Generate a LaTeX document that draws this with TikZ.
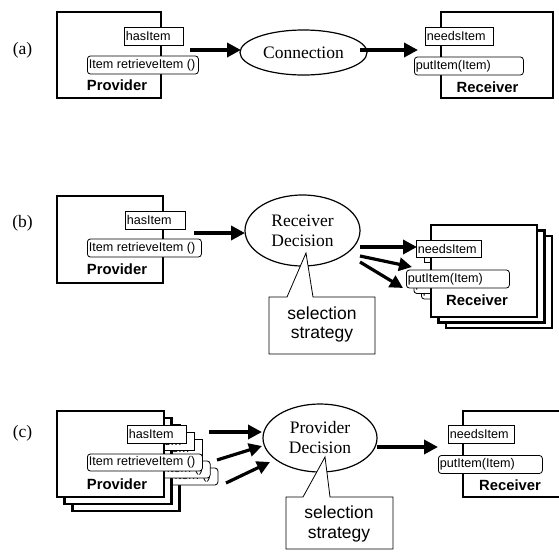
\documentclass[tikz,border=0pt]{standalone}
\usepackage{fontspec}
\setmainfont{Liberation Serif}
\setsansfont{Liberation Sans}
\usetikzlibrary{arrows.meta,shapes.geometric}
\newcommand{\mtx}[2]{\makebox[#1pt][l]{#2}}
\newcommand{\RecvB}[1]{%
  \node[comp, minimum width=106pt, minimum height=92pt] (#1box) at (484,271) {};
  \node[lbl] (#1lbl) at (477,300) {Receiver};
  \node[meth, minimum height=17pt] (#1need) at (416,248.5) {\mtx{62}{needsItem}};
  \node[rmeth] (#1put) at (406,279) {\mtx{100}{putItem(Item)}};
}
\newcommand{\ProvC}[1]{%
  \node[comp, minimum width=107pt, minimum height=86pt] (#1box) at (110.5,454) {};
  \node[lbl] (#1lbl) at (117,484) {Provider};
  \node[meth] (#1has) at (127,434) {\mtx{56}{hasItem}};
  \node[rmeth, minimum height=17pt] (#1ret) at (87,462.5) {\mtx{112}{Item retrieveItem ()}};
}
\begin{document}
\begin{tikzpicture}[x=1pt,y=-1pt,
  comp/.style={draw, line width=2.8pt, fill=white, inner sep=0pt},
  lbl/.style={font=\sffamily\bfseries\fontsize{14.8}{16}\selectfont, inner sep=0pt},
  meth/.style={draw, line width=0.8pt, fill=white, anchor=west, inner xsep=1.5pt, inner ysep=0pt, minimum height=18pt, font=\sffamily\fontsize{12.6}{14}\selectfont},
  rmeth/.style={meth, rounded corners=3pt},
  dec/.style={ellipse, draw, line width=1.2pt, fill=white, inner sep=0pt, font=\rmfamily\fontsize{17.5}{20}\selectfont, align=center},
  arr/.style={line width=4pt, -{Triangle[length=14pt,width=14pt]}},
  arrthin/.style={line width=3.2pt, -{Triangle[length=13pt,width=13pt]}},
  panel/.style={font=\rmfamily\fontsize{17.5}{20}\selectfont, inner sep=0pt},
  callout/.style={draw, line width=0.8pt, fill=white, line join=miter},
  ctext/.style={font=\sffamily\fontsize{17.5}{19.5}\selectfont, align=center, inner sep=0pt}
]
\useasboundingbox (0,0) rectangle (559,552);
\clip (0,0) rectangle (559,552);
\fill[white] (0,0) rectangle (559,552);

% ---------------- (a)
\node[panel] (la) at (22.5,50) {(a)};
\node[comp, minimum width=104pt, minimum height=86pt] (a-prov) at (109,55) {};
\node[lbl] (a-provl) at (117,85) {Provider};
\node[meth] (a-has) at (124,36) {\mtx{56}{hasItem}};
\node[rmeth] (a-ret) at (87,65) {\mtx{108}{Item retrieveItem ()}};
\node[dec, minimum width=127pt, minimum height=45pt] (a-conn) at (303.5,52.5) {Connection};
\node[comp, minimum width=112pt, minimum height=86pt] (a-recv) at (497,55) {};
\node[lbl] (a-recvl) at (487.5,87) {Receiver};
\node[meth] (a-need) at (425,36) {\mtx{65}{needsItem}};
\node[rmeth] (a-put) at (414,66) {\mtx{106}{putItem(Item)}};
\coordinate (a-s1) at (190,50);
\coordinate (a-t1) at (241,50);
\coordinate (a-s2) at (360,50);
\coordinate (a-t2) at (418,50);
\draw[arr] (a-s1) -- (a-t1);
\draw[arr] (a-s2) -- (a-t2);

% ---------------- (b)
\node[panel] (lb) at (22.5,223) {(b)};
\node[comp, minimum width=106pt, minimum height=87pt] (b-prov) at (110,239.5) {};
\node[lbl] (b-provl) at (117,269) {Provider};
\node[meth] (b-has) at (125,220) {\mtx{57}{hasItem}};
\node[rmeth] (b-ret) at (87,248) {\mtx{111}{Item retrieveItem ()}};
\node[dec, minimum width=115pt, minimum height=71pt] (b-dec) at (302.5,230.5) {Receiver\\Decision};
\draw[callout] (269,297) -- (287,297) -- (306,253) -- (313,297) -- (375,297) -- (375,354) -- (269,354) -- cycle;
\node[ctext] (b-sel) at (322,324.5) {selection\\strategy};
\begin{scope}[shift={(15,11)}]\RecvB{b-r3}\end{scope}
\begin{scope}[shift={(7.5,5.5)}]\RecvB{b-r2}\end{scope}
\RecvB{b-r1}
\coordinate (b-s0) at (194,233);
\coordinate (b-t0) at (245,233);
\coordinate (b-s1) at (360,247);
\coordinate (b-t1) at (417,247);
\coordinate (b-s2) at (360,256);
\coordinate (b-t2) at (412,267);
\coordinate (b-s3) at (360,262);
\coordinate (b-t3) at (403,288);
\draw[arr] (b-s0) -- (b-t0);
\draw[arr] (b-s1) -- (b-t1);
\draw[arrthin] (b-s2) -- (b-t2);
\draw[arrthin] (b-s3) -- (b-t3);

% ---------------- (c)
\node[panel] (lc) at (22.5,433) {(c)};
\begin{scope}[shift={(15.5,14)}]\ProvC{c-p3}\end{scope}
\begin{scope}[shift={(7.75,7)}]\ProvC{c-p2}\end{scope}
\ProvC{c-p1}
\node[dec, minimum width=114pt, minimum height=68pt] (c-dec) at (320,438) {Provider\\Decision};
\draw[callout] (286,497) -- (303,497) -- (325,457) -- (330,497) -- (393,497) -- (393,549) -- (286,549) -- cycle;
\node[ctext] (c-sel) at (339,524) {selection\\strategy};
\node[comp, minimum width=112pt, minimum height=86pt] (c-recv) at (519,454) {};
\node[lbl] (c-recvl) at (510,485) {Receiver};
\node[meth] (c-need) at (448,434) {\mtx{63}{needsItem}};
\node[rmeth] (c-put) at (438,464.5) {\mtx{101}{putItem(Item)}};
\coordinate (c-s1) at (209,432);
\coordinate (c-t1) at (262,432);
\coordinate (c-s2) at (217,460);
\coordinate (c-t2) at (262,446);
\coordinate (c-s3) at (226,483);
\coordinate (c-t3) at (270,462);
\coordinate (c-s4) at (377,447);
\coordinate (c-t4) at (438,447);
\draw[arr] (c-s1) -- (c-t1);
\draw[arrthin] (c-s2) -- (c-t2);
\draw[arrthin] (c-s3) -- (c-t3);
\draw[arr] (c-s4) -- (c-t4);
\end{tikzpicture}
\end{document}
